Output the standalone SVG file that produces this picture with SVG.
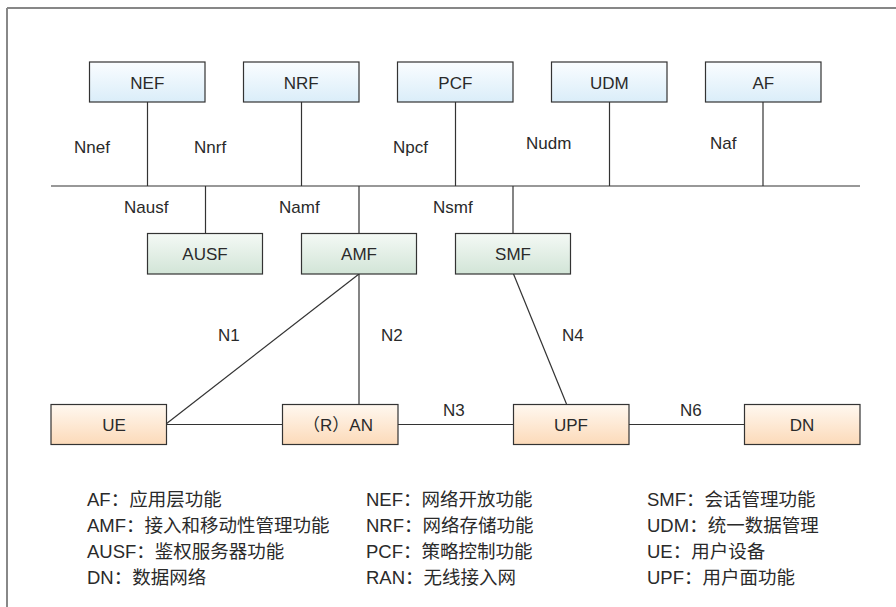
<svg xmlns="http://www.w3.org/2000/svg" width="896" height="607" viewBox="0 0 896 607">
<defs>
<linearGradient id="gBlue" x1="0" y1="0" x2="0" y2="1"><stop offset="0" stop-color="#fafdff"/><stop offset="1" stop-color="#daedf9"/></linearGradient>
<linearGradient id="gGreen" x1="0" y1="0" x2="0" y2="1"><stop offset="0" stop-color="#f4f9f5"/><stop offset="1" stop-color="#d2e5d7"/></linearGradient>
<linearGradient id="gOrange" x1="0" y1="0" x2="0" y2="1"><stop offset="0" stop-color="#fff8f0"/><stop offset="1" stop-color="#fcdab9"/></linearGradient>
<style>
.box{stroke:#333;stroke-width:1.2}
.blue{fill:url(#gBlue)}
.green{fill:url(#gGreen)}
.orange{fill:url(#gOrange)}
.t{font-family:"Liberation Sans","Noto Sans CJK SC",sans-serif;font-size:17px;fill:#2a2a2a}
.c{text-anchor:middle}
.ln{stroke:#333;stroke-width:1.2;fill:none}
.lg{font-family:"Liberation Sans","Noto Sans CJK SC",sans-serif;font-size:18.5px;fill:#2a2a2a}
</style>
</defs>
<rect width="896" height="607" fill="#fff"/>
<line x1="7" y1="8" x2="896" y2="8" stroke="#111" stroke-width="1.2"/>
<line x1="7" y1="8" x2="7" y2="607" stroke="#888" stroke-width="2"/>

<g id="connectors">
<line class="ln" x1="51" y1="186" x2="860" y2="186"/>
<line class="ln" x1="147.5" y1="102" x2="147.5" y2="186"/>
<line class="ln" x1="301.5" y1="102" x2="301.5" y2="186"/>
<line class="ln" x1="455.5" y1="102" x2="455.5" y2="186"/>
<line class="ln" x1="609.5" y1="102" x2="609.5" y2="186"/>
<line class="ln" x1="763" y1="102" x2="763" y2="186"/>
<line class="ln" x1="205.5" y1="186" x2="205.5" y2="233"/>
<line class="ln" x1="359" y1="186" x2="359" y2="233"/>
<line class="ln" x1="513" y1="186" x2="513" y2="233"/>
<line class="ln" x1="359" y1="274" x2="166" y2="424"/>
<line class="ln" x1="359" y1="274" x2="359" y2="404"/>
<line class="ln" x1="513.5" y1="274" x2="566.5" y2="404"/>
<line class="ln" x1="166" y1="424.5" x2="282" y2="424.5"/>
<line class="ln" x1="398" y1="424.5" x2="513" y2="424.5"/>
<line class="ln" x1="629" y1="424.5" x2="744" y2="424.5"/>
<text class="t" x="74" y="153">Nnef</text>
<text class="t" x="194" y="153">Nnrf</text>
<text class="t" x="393" y="153">Npcf</text>
<text class="t" x="526" y="149">Nudm</text>
<text class="t" x="710" y="149">Naf</text>
<text class="t" x="124" y="213">Nausf</text>
<text class="t" x="279" y="213">Namf</text>
<text class="t" x="433" y="213">Nsmf</text>
<text class="t" x="218" y="341">N1</text>
<text class="t" x="381" y="341">N2</text>
<text class="t" x="562" y="341">N4</text>
<text class="t" x="443" y="416">N3</text>
<text class="t" x="680" y="416">N6</text>
</g>

<g id="NEF"><rect class="box blue" x="89.5" y="62" width="115.5" height="40"/><text class="t c" x="147.3" y="89">NEF</text></g>
<g id="NRF"><rect class="box blue" x="243.5" y="62" width="115.5" height="40"/><text class="t c" x="301.3" y="89">NRF</text></g>
<g id="PCF"><rect class="box blue" x="397.5" y="62" width="115.5" height="40"/><text class="t c" x="455.3" y="89">PCF</text></g>
<g id="UDM"><rect class="box blue" x="551.5" y="62" width="115.5" height="40"/><text class="t c" x="609.3" y="89">UDM</text></g>
<g id="AF"><rect class="box blue" x="705.5" y="62" width="115.5" height="40"/><text class="t c" x="763.3" y="89">AF</text></g>

<g id="AUSF"><rect class="box green" x="147.5" y="233.5" width="115" height="40.5"/><text class="t c" x="205" y="260">AUSF</text></g>
<g id="AMF"><rect class="box green" x="301.5" y="233.5" width="115" height="40.5"/><text class="t c" x="359" y="260">AMF</text></g>
<g id="SMF"><rect class="box green" x="455.5" y="233.5" width="115" height="40.5"/><text class="t c" x="513" y="260">SMF</text></g>

<g id="UE"><rect class="box orange" x="51" y="404.5" width="115.5" height="40"/><text class="t c" x="114" y="431">UE</text></g>
<g id="RAN"><rect class="box orange" x="282.5" y="404.5" width="115.5" height="40"/><text class="t c" x="338" y="431">（R）AN</text></g>
<g id="UPF"><rect class="box orange" x="513.5" y="404.5" width="115.5" height="40"/><text class="t c" x="571" y="431">UPF</text></g>
<g id="DN"><rect class="box orange" x="744.5" y="404.5" width="115.5" height="40"/><text class="t c" x="802" y="431">DN</text></g>

<g id="legend">
<text class="lg" x="87" y="506">AF：应用层功能</text>
<text class="lg" x="87" y="532">AMF：接入和移动性管理功能</text>
<text class="lg" x="87" y="558">AUSF：鉴权服务器功能</text>
<text class="lg" x="87" y="584">DN：数据网络</text>
<text class="lg" x="366" y="506">NEF：网络开放功能</text>
<text class="lg" x="366" y="532">NRF：网络存储功能</text>
<text class="lg" x="366" y="558">PCF：策略控制功能</text>
<text class="lg" x="366" y="584">RAN：无线接入网</text>
<text class="lg" x="647" y="506">SMF：会话管理功能</text>
<text class="lg" x="647" y="532">UDM：统一数据管理</text>
<text class="lg" x="647" y="558">UE：用户设备</text>
<text class="lg" x="647" y="584">UPF：用户面功能</text>
</g>
</svg>
